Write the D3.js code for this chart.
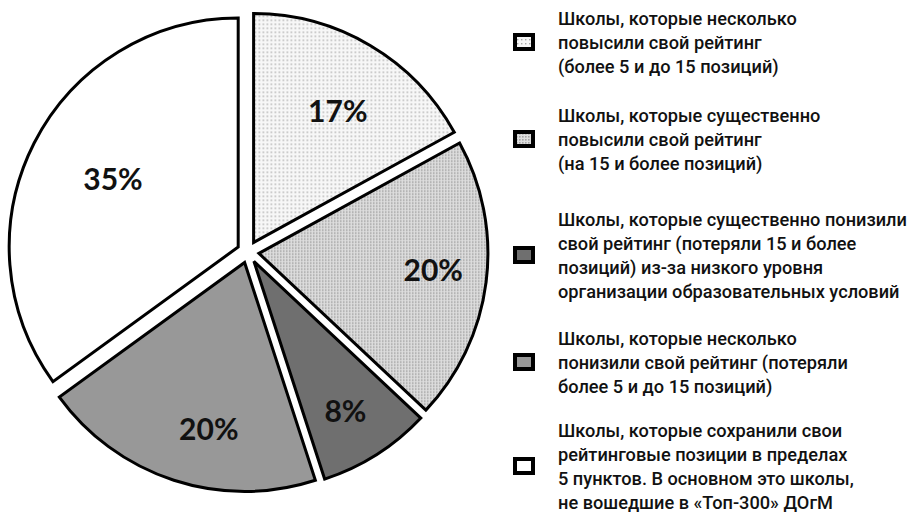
<!DOCTYPE html>
<html lang="ru">
<head>
<meta charset="utf-8">
<script src="https://cdn.jsdelivr.net/npm/d3@7"></script>
<style>
  html, body { margin: 0; padding: 0; background: #fff; }
  svg { display: block; }
</style>
</head>
<body>
<svg id="chart" width="914" height="512"></svg>
<script>
// Share of schools by change of rating position (percent), clockwise from 12 o'clock
const categories = [
  "Школы, которые несколько повысили свой рейтинг (более 5 и до 15 позиций)",
  "Школы, которые существенно повысили свой рейтинг (на 15 и более позиций)",
  "Школы, которые существенно понизили свой рейтинг (потеряли 15 и более позиций) из-за низкого уровня организации образовательных условий",
  "Школы, которые несколько понизили свой рейтинг (потеряли более 5 и до 15 позиций)",
  "Школы, которые сохранили свои рейтинговые позиции в пределах 5 пунктов. В основном это школы, не вошедшие в «Топ-300» ДОгМ"
];
const values = [17, 20, 8, 20, 35];

// Legend text, broken into lines as printed
const legendLines = [
  ["Школы, которые несколько", "повысили свой рейтинг", "(более 5 и до 15 позиций)"],
  ["Школы, которые существенно", "повысили свой рейтинг", "(на 15 и более позиций)"],
  ["Школы, которые существенно понизили", "свой рейтинг (потеряли 15 и более", "позиций) из-за низкого уровня", "организации образовательных условий"],
  ["Школы, которые несколько", "понизили свой рейтинг (потеряли", "более 5 и до 15 позиций)"],
  ["Школы, которые сохранили свои", "рейтинговые позиции в пределах", "5 пунктов. В основном это школы,", "не вошедшие в «Топ-300» ДОгМ"]
];

const svg = d3.select("#chart");
const defs = svg.append("defs");

// Sparse dot fill
const pDots = defs.append("pattern").attr("id", "dots")
  .attr("patternUnits", "userSpaceOnUse").attr("width", 4).attr("height", 4);
pDots.append("rect").attr("width", 4).attr("height", 4).attr("fill", "#f7f7f7");
pDots.append("rect").attr("x", 1).attr("y", 1).attr("width", 1.4).attr("height", 1.4).attr("fill", "#a8a8a8");

// Fine checker fill
const pCheck = defs.append("pattern").attr("id", "check")
  .attr("patternUnits", "userSpaceOnUse").attr("width", 3).attr("height", 3);
pCheck.append("rect").attr("width", 3).attr("height", 3).attr("fill", "#dedede");
pCheck.append("rect").attr("x", 0).attr("y", 0).attr("width", 1.6).attr("height", 1.6).attr("fill", "#a4a4a4");

const fills = ["url(#dots)", "url(#check)", "#6f6f6f", "#989898", "#ffffff"];

// Pie geometry: exploded slices, each shifted out along its bisector
const cx = 248, cy = 252, R = 229, explode = 11;
const pie = d3.pie().sort(null).value(d => d)
  .startAngle(0).endAngle(2 * Math.PI);
const arcs = pie(values);
const arc = d3.arc().innerRadius(0).outerRadius(R);

const g = svg.append("g").attr("transform", `translate(${cx},${cy})`);

const mid = d => (d.startAngle + d.endAngle) / 2;
const slice = g.selectAll("g.slice").data(arcs).join("g")
  .attr("class", "slice")
  .attr("transform", d => `translate(${explode * Math.sin(mid(d))},${-explode * Math.cos(mid(d))})`);

slice.append("path")
  .attr("d", arc)
  .attr("fill", (d, i) => fills[i])
  .attr("stroke", "#000")
  .attr("stroke-width", 3)
  .attr("stroke-linejoin", "miter");

// Value labels (best-fit placement): distance from the slice apex and
// position across the slice's angular span
const labelRadius = [157, 175, 175, 169, 143];
const labelFrac = [0.53, 0.47, 0.53, 0.42, 0.515];
const labelAngle = (d, i) => d.startAngle + labelFrac[i] * (d.endAngle - d.startAngle);
slice.append("text")
  .attr("x", (d, i) => labelRadius[i] * Math.sin(labelAngle(d, i)))
  .attr("y", (d, i) => -labelRadius[i] * Math.cos(labelAngle(d, i)))
  .attr("text-anchor", "middle")
  .attr("dominant-baseline", "central")
  .attr("font-family", "Lato, 'Open Sans', sans-serif")
  .attr("font-weight", 700)
  .attr("font-size", 30)
  .attr("fill", "#111")
  .text(d => d.value + "%");

// Legend
const legendTop = [18, 115, 219, 338, 430];
const lineH = 24;
const legend = svg.append("g").attr("class", "legend");
legendLines.forEach((lines, i) => {
  const item = legend.append("g").attr("transform", `translate(0,${legendTop[i]})`);
  const boxY = (lines.length - 1) * lineH / 2;
  item.append("rect")
    .attr("x", 515).attr("y", boxY - 7)
    .attr("width", 18).attr("height", 14)
    .attr("fill", fills[i])
    .attr("stroke", "#000").attr("stroke-width", 4);
  item.selectAll("text").data(lines).join("text")
    .attr("x", 558)
    .attr("y", (d, j) => j * lineH)
    .attr("dominant-baseline", "central")
    .attr("font-family", "Roboto, 'Noto Sans', sans-serif")
    .attr("font-weight", 500)
    .attr("font-size", 18.2)
    .attr("fill", "#111")
    .text(d => d);
});
</script>
</body>
</html>
